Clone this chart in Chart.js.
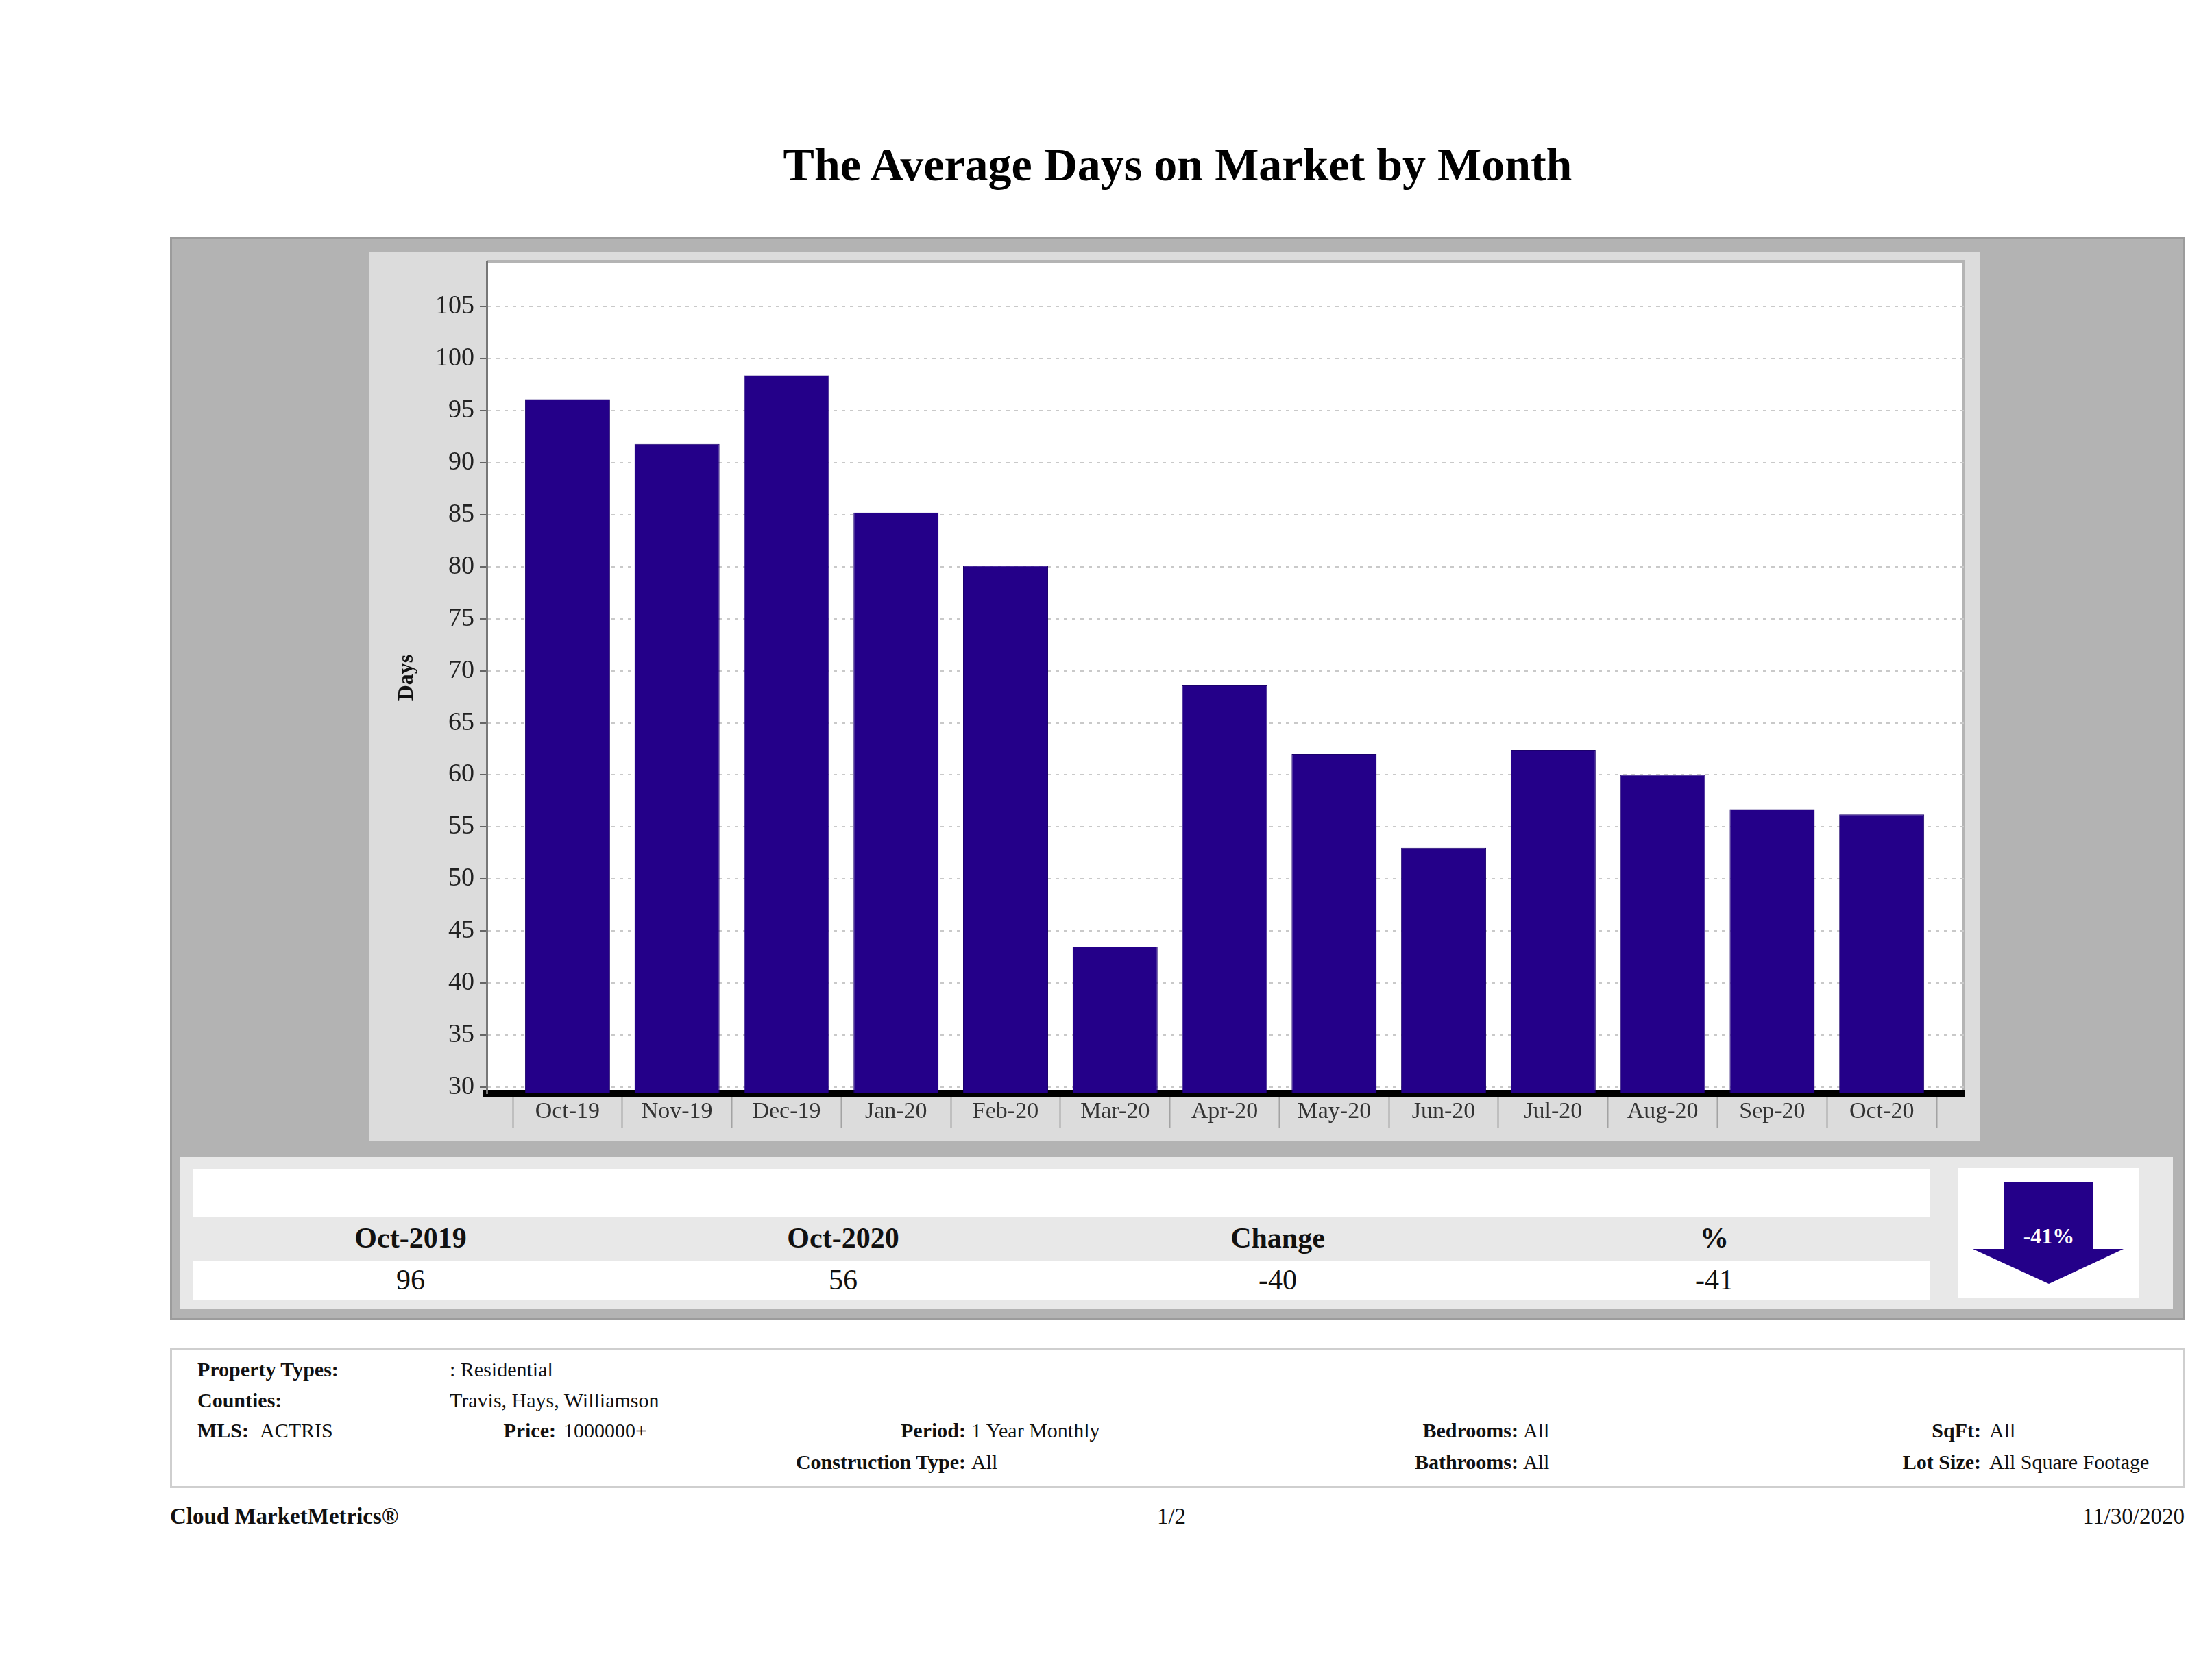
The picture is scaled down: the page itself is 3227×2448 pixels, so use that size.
<!DOCTYPE html>
<html>
<head>
<meta charset="utf-8">
<script src="https://cdn.jsdelivr.net/npm/chart.js@4.4.0/dist/chart.umd.min.js"></script>
<style>
  body { margin: 0; width: 3227px; height: 2448px; background: #fff; position: relative; font-family: 'Liberation Serif', 'DejaVu Serif', serif; color: #111; overflow: hidden; }
  .abs { position: absolute; line-height: 1; white-space: nowrap; }
  .b { font-weight: bold; }
  .c { transform: translateX(-50%); }
  .r { transform: translateX(-100%); }
  #title { left: 1718px; top: 206px; font-size: 68px; font-weight: bold; color: #000; }
  #panel { left: 248px; top: 346px; width: 2939px; height: 1580px; background: #b3b3b3; border: 3px solid #9c9c9c; box-sizing: border-box; }
  #chartBox { left: 539px; top: 367px; width: 2350px; height: 1298px; background: #dcdcdc; }
  #statsBg { left: 263px; top: 1688px; width: 2907px; height: 221px; background: #e8e8e8; }
  .white { background: #fff; }
  #info { left: 248px; top: 1966px; width: 2939px; height: 205px; border: 3px solid #cfcfcf; box-sizing: border-box; background: #fff; }
  .hd { font-size: 42px; font-weight: bold; top: 1785px; }
  .val { font-size: 42px; top: 1846px; }
  .inf { font-size: 30px; }
  .foot { font-size: 33px; top: 2196px; }
</style>
</head>
<body>
<div class="abs c" id="title">The Average Days on Market by Month</div>
<div class="abs" id="panel"></div>
<div class="abs" id="chartBox"><canvas id="myChart" width="2350" height="1298"></canvas></div>
<div class="abs" id="statsBg"></div>
<div class="abs white" style="left:282px;top:1705px;width:2534px;height:70px"></div>
<div class="abs white" style="left:282px;top:1840px;width:2534px;height:57px"></div>
<div class="abs white" id="arrowBox" style="left:2856px;top:1704px;width:265px;height:189px">
  <svg width="265" height="189" viewBox="0 0 265 189">
    <polygon points="67,20 198,20 198,118 242,118 133,169 22,118 67,118" fill="#240089"/>
    <text id="pctText" x="133" y="110" text-anchor="middle" fill="#fff" font-family="Liberation Serif" font-weight="bold" font-size="32"></text>
  </svg>
</div>
<div id="summary"></div>
<div class="abs" id="info"></div>
<div id="infoText"></div>
<div class="abs foot b" style="left:248px">Cloud MarketMetrics®</div>
<div class="abs foot c" style="left:1709px">1/2</div>
<div class="abs foot r" style="left:3187px">11/30/2020</div>

<script>
// values
const months = ['Oct-19', 'Nov-19', 'Dec-19', 'Jan-20', 'Feb-20', 'Mar-20', 'Apr-20', 'May-20', 'Jun-20', 'Jul-20', 'Aug-20', 'Sep-20', 'Oct-20'];
const avgDays = [96.1, 91.8, 98.4, 85.2, 80.1, 43.5, 68.6, 62, 53, 62.4, 60, 56.7, 56.2];

// summary table under the chart
const summaryHeads = ['Oct-2019', 'Oct-2020', 'Change', '%'];
const summaryValues = ['96', '56', '-40', '-41'];
const summaryCols = [599, 1230, 1864, 2501];
const pctChange = '-41%';

// filter block: [label, value, labelRight, valueLeft, top]
const filters = [
    ['Property Types:', ': Residential', null, 656, 1983],
    ['Counties:', 'Travis, Hays, Williamson', null, 656, 2028],
    ['MLS:', 'ACTRIS', null, 379, 2072],
    ['Price:', '1000000+', 811, 822, 2072],
    ['Period:', '1 Year Monthly', 1409, 1417, 2072],
    ['Bedrooms:', 'All', 2215, 2222, 2072],
    ['SqFt:', 'All', 2890, 2902, 2072],
    ['Construction Type:', 'All', 1409, 1417, 2118],
    ['Bathrooms:', 'All', 2215, 2222, 2118],
    ['Lot Size:', 'All Square Footage', 2890, 2902, 2118]
];

document.getElementById('pctText').textContent = pctChange;

const summary = document.getElementById('summary');
summaryHeads.forEach((h, i) => {
    const d = document.createElement('div');
    d.className = 'abs c hd';
    d.style.left = summaryCols[i] + 'px';
    d.textContent = h;
    summary.appendChild(d);
    const v = document.createElement('div');
    v.className = 'abs c val';
    v.style.left = summaryCols[i] + 'px';
    v.textContent = summaryValues[i];
    summary.appendChild(v);
});

const infoText = document.getElementById('infoText');
filters.forEach(f => {
    const lab = document.createElement('div');
    lab.className = 'abs inf b' + (f[2] ? ' r' : '');
    lab.style.left = (f[2] ? f[2] : 288) + 'px';
    lab.style.top = f[4] + 'px';
    lab.textContent = f[0];
    infoText.appendChild(lab);
    const val = document.createElement('div');
    val.className = 'abs inf';
    val.style.left = f[3] + 'px';
    val.style.top = f[4] + 'px';
    val.textContent = f[1];
    infoText.appendChild(val);
});

// white plot area with a light frame on top and right
const plotFrame = {
    id: 'plotFrame',
    beforeDraw(chart) {
        const { ctx, chartArea } = chart;
        const { left, top, right, bottom } = chartArea;
        ctx.save();
        ctx.fillStyle = '#fff';
        ctx.fillRect(left, top, right - left, bottom - top);
        ctx.strokeStyle = '#b4b4b4';
        ctx.lineWidth = 4;
        ctx.beginPath();
        ctx.moveTo(left, top);
        ctx.lineTo(right, top);
        ctx.lineTo(right, bottom);
        ctx.stroke();
        ctx.restore();
    }
};

const ctx = document.getElementById('myChart').getContext('2d');
const serif = "'Liberation Serif', 'DejaVu Serif', serif";

new Chart(ctx, {
    type: 'bar',
    data: {
        datasets: [{
            data: months.map((m, i) => ({ x: i, y: avgDays[i] })),
            backgroundColor: '#240089',
            borderColor: '#1b006c',
            borderWidth: 1,
            barPercentage: 0.776,
            categoryPercentage: 2 // x ticks sit every half month, so one month is two tick steps
        }]
    },
    options: {
        responsive: false,
        animation: false,
        devicePixelRatio: 1,
        layout: { padding: { left: 0, top: 15, right: 24, bottom: 0 } },
        plugins: { legend: { display: false }, tooltip: { enabled: false } },
        scales: {
            x: {
                type: 'linear',
                offset: false,
                min: -0.738,
                max: 12.75,
                afterBuildTicks: (scale) => {
                    const t = [];
                    for (let i = -1; i < months.length * 2; i++) t.push({ value: i / 2 });
                    scale.ticks = t;
                },
                afterFit: (scale) => {
                    scale.height = 70;
                    scale.paddingLeft = 0;
                    scale.paddingRight = 0;
                },
                grid: {
                    offset: false,
                    drawOnChartArea: false,
                    tickLength: 50,
                    tickWidth: 2,
                    tickColor: (c) => (c.tick && !Number.isInteger(c.tick.value)) ? '#a3a3a3' : 'rgba(0,0,0,0)'
                },
                border: { display: true, color: '#000', width: 10 },
                ticks: {
                    autoSkip: false,
                    maxRotation: 0,
                    minRotation: 0,
                    padding: -43,
                    color: '#333',
                    font: { family: serif, size: 34 },
                    callback: (v) => Number.isInteger(v) ? months[v] : ''
                }
            },
            y: {
                min: 29.4,
                max: 109.3,
                afterFit: (scale) => {
                    scale.width = 171;
                    scale.paddingTop = 0;
                    scale.paddingBottom = 0;
                },
                ticks: {
                    stepSize: 5,
                    includeBounds: false,
                    padding: 8,
                    color: '#222',
                    font: { family: serif, size: 38 }
                },
                grid: { color: '#c9c9c9', lineWidth: 2, tickLength: 10, tickColor: '#666', tickWidth: 2 },
                border: { color: '#777', width: 3, dash: [5, 7] },
                title: {
                    display: true,
                    text: 'Days',
                    color: '#111',
                    font: { family: serif, size: 32, weight: 'bold' },
                    padding: { top: 36, bottom: 0 }
                }
            }
        }
    },
    plugins: [plotFrame]
});
</script>
</body>
</html>
